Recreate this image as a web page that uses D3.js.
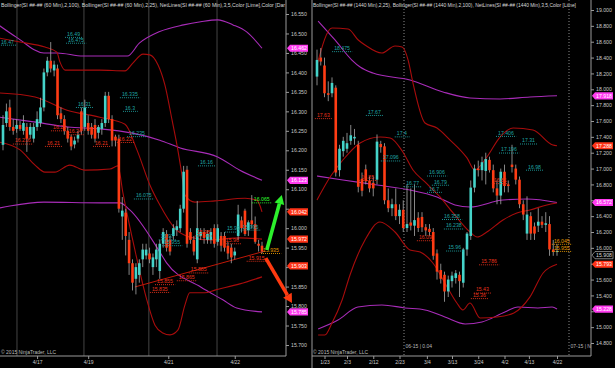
<!DOCTYPE html>
<html>
<head>
<meta charset="utf-8">
<script src="https://d3js.org/d3.v7.min.js"></script>
<style>
  html, body { margin: 0; padding: 0; background: #000; overflow: hidden; }
  text { font-family: "Liberation Sans", Arial, sans-serif; }
</style>
</head>
<body>
<svg id="chart" width="615" height="368"></svg>
<script>
"use strict";

// ---------- left panel: SI 60 min ----------
const leftOpen = [16.214,16.27,16.31,16.26,16.255,16.265,16.25,16.26,16.24,16.23,16.26,16.27,16.31,16.40,16.43,16.405,16.41,16.295,16.28,16.25,16.235,16.215,16.23,16.30,16.26,16.27,16.26,16.265,16.245,16.255,16.27,16.34,16.28,16.235,16.23,
  16.03,16.04,15.97,15.91,15.87,15.88,15.92,15.93,15.935,15.90,15.92,15.89,15.96,15.985,15.97,15.98,15.995,16.00,16.05,16.15,15.99,15.97,15.92,15.98,15.99,15.97,15.97,16.00,15.965,15.98,15.98,15.955,15.95,15.93,15.98,16.02,16.045,15.995,16.02,16.01,15.96,15.955];
const leftHigh = [16.29,16.32,16.33,16.28,16.28,16.275,16.29,16.27,16.27,16.27,16.30,16.335,16.41,16.44,16.478,16.43,16.42,16.31,16.29,16.26,16.24,16.235,16.25,16.31,16.33,16.29,16.27,16.28,16.265,16.28,16.35,16.35,16.29,16.24,16.24,
  16.08,16.05,15.99,15.92,15.91,15.92,15.96,15.96,15.95,15.935,15.96,15.97,16.00,15.995,15.98,16.01,16.02,16.06,16.16,16.16,16.00,15.98,16.07,16.00,16.00,15.995,16.00,16.01,16.01,15.99,15.99,15.965,15.96,15.95,16.06,16.03,16.05,16.02,16.085,16.03,15.97,15.965];
const leftLow = [16.20,16.26,16.25,16.24,16.245,16.25,16.24,16.196,16.23,16.22,16.25,16.26,16.30,16.39,16.40,16.39,16.28,16.27,16.24,16.22,16.20,16.205,16.22,16.24,16.25,16.24,16.23,16.22,16.23,16.24,16.26,16.27,16.21,16.21,16.04,
  15.97,15.93,15.88,15.84,15.83,15.86,15.90,15.92,15.91,15.88,15.90,15.87,15.95,15.94,15.93,15.97,15.98,15.99,16.04,15.95,15.96,15.93,15.91,15.97,15.96,15.96,15.96,15.95,15.955,15.94,15.94,15.92,15.91,15.92,15.97,15.99,15.98,15.98,16.00,15.96,15.94,15.935];
const leftClose = [16.265,16.30,16.26,16.25,16.265,16.255,16.27,16.23,16.26,16.26,16.28,16.31,16.40,16.43,16.41,16.42,16.29,16.28,16.25,16.23,16.21,16.225,16.24,16.25,16.31,16.25,16.24,16.23,16.26,16.27,16.34,16.28,16.225,16.225,16.05,
  16.045,15.98,15.91,15.86,15.90,15.91,15.945,15.945,15.92,15.925,15.945,15.96,15.99,15.95,15.94,16.00,16.005,16.05,16.145,15.96,15.97,15.94,16.00,15.99,15.975,15.985,15.99,15.96,16.00,15.955,15.95,15.935,15.925,15.94,16.035,16.00,15.985,16.015,16.01,15.965,15.955,15.94];

// bollinger lines as [bar index, price]
const leftBB100Upper = [[-1,16.52],[4,16.49],[12,16.45],[16,16.45],[23.5,16.442],[36.5,16.442],[40,16.475],[46,16.505],[53,16.522],[58,16.53],[63,16.535],[67.5,16.522],[71.5,16.504],[76,16.462]];
const leftBB100Mid = [[-1,16.285],[9,16.273],[19,16.26],[28.5,16.255],[38,16.244],[46,16.226],[52,16.206],[63,16.183],[69.5,16.149],[76,16.123]];
const leftBB100Lower = [[-1,16.052],[2,16.057],[12,16.067],[28.5,16.065],[34.3,16.065],[37.2,16.047],[46,15.939],[48,15.911],[58,15.849],[64.5,15.816],[68.6,15.795],[76,15.785]];
const leftBB25Upper = [[-1,16.488],[5,16.478],[12.3,16.465],[15.8,16.452],[16.7,16.427],[18.2,16.406],[28.4,16.406],[35.8,16.404],[38.1,16.424],[41.1,16.447],[43.1,16.445],[45.5,16.419],[47.5,16.368],[49.6,16.278],[51.3,16.201],[52.5,16.137],[53.4,16.085],[56.3,16.067],[62.2,16.07],[71,16.077],[74.5,16.072],[76,16.042]];
const leftBB25Mid = [[-1,16.347],[9.4,16.337],[18.8,16.303],[28.4,16.285],[35.8,16.267],[39.3,16.201],[43.1,16.111],[46,16.06],[50.4,16.0],[54.8,15.977],[60.7,15.97],[69.5,15.975],[76,15.972]];
const leftBB25Lower = [[-1,16.221],[5,16.201],[9.4,16.162],[12.3,16.144],[15.2,16.144],[19.6,16.162],[24,16.149],[31.4,16.152],[33.7,16.16],[35.2,16.09],[38.7,15.944],[42.2,15.816],[44.6,15.751],[46.9,15.731],[49,15.726],[51.3,15.738],[53.4,15.803],[54.8,15.834],[59.2,15.834],[62.2,15.841],[69.5,15.857],[76,15.875]];
const leftTrend = [[38.7,15.849],[76.8,15.941]];
const leftArrowUp = [[77.4,15.944],[81.8,16.085]];
const leftArrowDown = [[77.1,15.923],[84.8,15.808]];

const leftNetText = ["16.47","16.49","16.475","16.335","16.3","16.31","16.235","16.16","16.075","15.97","15.955","15.99","15.995",
  "16.216","16.21","16.25","16.24","16.21","16.22","15.98","15.96","15.915","15.885","15.865","15.855","15.835","16.065","15.935"];
const leftNetAt = [-0.9,18.5,18.8,34.6,35.5,21.7,36.7,57.5,38.7,46,47,65.4,70,
  3.2,12.6,14.4,19,26.7,33.7,56.6,65.1,71.8,54.8,51.3,44.9,43.4,73.3,76];
const leftNetKind = ["hi","hi","hi","hi","hi","hi","hi","hi","hi","hi","hi","hi","hi",
  "lo","lo","lo","lo","lo","lo","lo","lo","lo","lo","lo","lo","lo","up","cur"];

const leftPriceTicks = [15.70,15.75,15.80,15.85,15.90,15.95,16.00,16.05,16.10,16.15,16.20,16.25,16.30,16.35,16.40,16.45,16.50,16.55];
const leftDateAt = [10, 25, 48.5, 68];
const leftDateLabels = ["4/17", "4/19", "4/21", "4/22"];
const leftSessionBreaks = [4.1, 23.75, 42.8, 62.8];
const leftMarkers = [16.462, 16.123, 16.042, 15.972, 15.903, 15.785];
const leftMarkerKind = ["mag", "mag", "red", "red", "red", "mag"];

// ---------- right panel: SI 1440 min ----------
const rightOpen = [18.16,18.40,18.30,17.95,17.95,18.02,16.98,17.22,17.25,17.35,17.38,17.30,16.87,16.99,16.85,16.82,16.86,17.31,17.28,16.60,16.50,16.55,16.40,16.48,16.25,16.32,16.28,16.38,16.39,16.26,16.24,16.20,15.93,15.72,15.66,15.45,15.58,15.62,15.66,15.56,15.98,16.15,16.76,17.00,16.98,16.97,17.11,16.98,16.75,16.66,16.96,16.80,17.05,17.00,16.86,16.55,16.18,16.40,16.27,16.28,16.33,16.29,16.30,15.98,15.95];
const rightHigh = [18.50,18.52,18.40,18.10,18.15,18.05,17.30,17.40,17.45,17.55,17.50,17.35,16.95,17.05,16.90,16.90,17.43,17.35,17.32,16.75,16.62,16.75,16.55,16.60,16.80,16.75,16.80,16.45,16.45,16.30,16.30,16.25,15.98,15.80,15.70,15.65,15.70,15.72,15.70,16.00,16.20,16.85,17.05,17.10,17.15,17.20,17.15,17.05,16.85,17.00,17.05,16.85,17.30,17.05,16.90,16.60,16.65,16.45,16.32,16.50,16.40,16.45,16.40,16.10,16.05];
const rightLow = [18.05,18.30,17.90,17.85,17.90,16.90,16.90,17.15,17.20,17.30,17.30,16.70,16.65,16.80,16.70,16.65,16.80,17.20,16.55,16.45,16.40,16.35,16.30,16.20,16.20,16.22,16.15,16.20,16.20,16.15,16.15,15.85,15.60,15.55,15.32,15.38,15.50,15.55,15.38,15.50,15.90,16.10,16.70,16.90,16.85,16.80,16.95,16.70,16.55,16.55,16.70,16.70,16.95,16.80,16.50,16.35,16.10,16.10,16.10,16.20,16.25,16.20,15.90,15.90,15.90];
const rightClose = [18.37,18.35,17.95,17.93,18.08,16.95,17.25,17.35,17.32,17.42,17.40,16.77,16.72,16.84,16.75,16.75,17.34,17.27,16.60,16.50,16.55,16.40,16.48,16.25,16.30,16.28,16.35,16.25,16.26,16.22,16.20,15.90,15.70,15.61,15.45,15.60,15.65,15.68,15.58,15.98,16.18,16.76,17.00,16.98,17.08,17.12,16.98,16.75,16.66,16.96,16.78,16.78,17.02,16.86,16.55,16.42,16.42,16.18,16.18,16.33,16.29,16.31,15.98,15.95,15.96];

const rightBB100Upper = [[0.3,18.861],[4.8,18.622],[9.3,18.369],[11.5,18.281],[14.9,18.205],[24.8,18.117],[33.6,17.966],[40.8,17.89],[48.8,17.878],[56.8,17.903],[64,17.918]];
const rightBB100Mid = [[0,16.906],[6.9,16.856],[16,16.793],[24.8,16.73],[32,16.642],[36.8,16.541],[40.8,16.515],[49.6,16.604],[56,16.616],[64,16.572]];
const rightBB100Lower = [[0.3,14.977],[5.6,15.09],[10.9,15.254],[17.3,15.28],[23.5,15.242],[28.8,15.217],[34.1,15.128],[39.5,15.04],[44,15.065],[50.1,15.191],[53.6,15.254],[58.9,15.242],[62.7,15.254],[64,15.228]];
const rightBB25Upper = [[0,18.306],[4,18.773],[8.3,18.76],[11,18.622],[12.8,18.559],[17.3,18.458],[20.8,18.546],[22.7,18.533],[24.3,18.369],[25.6,18.079],[28.8,17.575],[32,17.512],[35.5,17.36],[40,17.134],[42.1,16.982],[45.3,17.146],[48.8,17.398],[52.3,17.512],[57.6,17.487],[62.9,17.297],[64,17.288]];
const rightBB25Mid = [[0,16.604],[3.5,16.894],[6.9,17.108],[11.5,17.323],[16.8,17.398],[19.5,17.386],[22.9,17.209],[25.6,16.982],[28.8,16.831],[32.8,16.642],[36.3,16.44],[40.8,16.2],[42.7,16.137],[45.3,16.2],[49.6,16.352],[53.3,16.44],[56.8,16.478],[61.3,16.541],[64,16.566]];
const rightBB25Lower = [[0.3,14.901],[2.1,14.901],[4,15.052],[6.7,15.343],[8.8,15.658],[12.8,16.099],[16.8,16.326],[20.8,16.2],[24.8,15.973],[27.5,15.948],[30.9,15.809],[34.7,15.507],[37.3,15.305],[38.9,15.217],[40.8,15.305],[43.5,15.116],[48,15.128],[52.5,15.179],[56.8,15.381],[60.3,15.683],[64,15.793]];

const rightNetText = ["18.475","17.67","17.4","17.096","16.906","16.79","16.7","16.77","17.406","17.31","17.196","16.98","16.358","16.238","15.96",
  "17.63","16.85","16.81","16.09","15.786","15.43","15.36","16.045","15.955"];
const rightNetAt = [4.3,13.3,21,17.3,29.6,30.9,29.6,23.5,48,54.4,48.8,56,33.6,34.1,34.7,
  -0.3,11.5,46.9,26.9,43.5,42.1,41.3,62.9,62.9];
const rightNetKind = ["hi","hi","hi","hi","hi","hi","hi","hi","hi","hi","hi","hi","hi","hi","hi",
  "lo","lo","lo","lo","lo","lo","lo","cur","cur"];

const rightPriceTicks = [14.8,15.0,15.2,15.4,15.6,15.8,16.0,16.2,16.4,16.6,16.8,17.0,17.2,17.4,17.6,17.8,18.0,18.2,18.4,18.6,18.8,19.0];
const rightDateAt = [2, 8, 15, 22, 29.3, 36, 43, 50, 56.5, 64];
const rightDateLabels = ["1/23","2/3","2/12","2/23","3/4","3/13","3/24","4/2","4/13","4/22"];
const rightRollovers = [23.2, 67.2];
const rightRolloverText = ["06-15 | 0.04", "07-15 | N"];
const rightMarkers = [17.918, 17.288, 16.572, 15.908, 15.793, 15.228];
const rightMarkerKind = ["mag", "red", "mag", "last", "red", "mag"];

// ---------- look ----------
const UP = "#45d3c9", DOWN = "#ff3c14", WICK = "#a8a8a8";
const BB25 = "#a80c0c", BB100 = "#a82cb8";
const NET = { hi: "#1fa3a3", lo: "#e8321c", up: "#30ff30", cur: "#e89a00" };
const MARK = { mag: "#ff3cf0", red: "#ff3418", last: "#000" };
const AXIS_Y = 356;

const svg = d3.select("#chart");
svg.append("rect").attr("width", 615).attr("height", 368).attr("fill", "#000");

function drawPanel(p) {
  const { x, y } = p;
  const root = svg.append("g");
  root.append("clipPath").attr("id", p.id).append("rect")
    .attr("x", p.x0).attr("y", 0).attr("width", p.x1 - p.x0).attr("height", AXIS_Y);
  const plot = root.append("g").attr("clip-path", `url(#${p.id})`);

  // vertical session / rollover lines
  plot.selectAll(".vgrid").data(p.breaks).join("line")
    .attr("x1", d => x(d)).attr("x2", d => x(d))
    .attr("y1", 0).attr("y2", AXIS_Y)
    .attr("stroke", p.dotted ? "#8a8a8a" : "#454545")
    .attr("stroke-width", 1)
    .attr("stroke-dasharray", p.dotted ? "1,2" : null);

  // bollinger bands
  const line = d3.line().x(d => x(d[0])).y(d => y(d[1])).curve(d3.curveMonotoneX);
  p.bands.forEach(b => {
    plot.append("path").attr("d", line(b.pts)).attr("fill", "none")
      .attr("stroke", b.color).attr("stroke-width", 1.1);
  });
  if (p.trend) {
    plot.append("path").attr("d", d3.line().x(d => x(d[0])).y(d => y(d[1]))(p.trend))
      .attr("fill", "none").attr("stroke", "#c01808").attr("stroke-width", 1);
  }

  // candles
  const bars = p.open.map((o, i) => ({ i, o, h: p.high[i], l: p.low[i], c: p.close[i] }));
  plot.selectAll(".wick").data(bars).join("line")
    .attr("x1", d => x(d.i)).attr("x2", d => x(d.i))
    .attr("y1", d => y(d.h)).attr("y2", d => y(d.l))
    .attr("stroke", WICK).attr("stroke-width", 0.8);
  plot.selectAll(".body").data(bars).join("rect")
    .attr("x", d => x(d.i) - 1.3).attr("width", 2.6)
    .attr("y", d => y(Math.max(d.o, d.c)))
    .attr("height", d => Math.max(1, Math.abs(y(d.o) - y(d.c))))
    .attr("fill", d => d.c >= d.o ? UP : DOWN);

  // net lines: dotted level with its price written above
  const nets = p.netText.map((t, k) => ({ t, at: p.netAt[k], kind: p.netKind[k] }));
  const ng = plot.selectAll(".net").data(nets).join("g");
  ng.append("line")
    .attr("x1", d => x(d.at) - 1).attr("x2", d => x(d.at) + d.t.length * 2.7 + 3)
    .attr("y1", d => y(+d.t)).attr("y2", d => y(+d.t))
    .attr("stroke", d => NET[d.kind]).attr("stroke-width", 0.9).attr("stroke-dasharray", "1,1");
  ng.append("text")
    .attr("x", d => x(d.at) + 1).attr("y", d => y(+d.t) - 1.6)
    .attr("font-size", 5.2).attr("fill", d => NET[d.kind]).text(d => d.t);

  // frame
  root.append("line").attr("x1", p.x1).attr("x2", p.x1).attr("y1", 0).attr("y2", AXIS_Y).attr("stroke", "#9a9a9a");
  root.append("line").attr("x1", p.x0).attr("x2", p.x1).attr("y1", AXIS_Y).attr("y2", AXIS_Y).attr("stroke", "#9a9a9a");

  // price axis
  const ya = root.append("g").attr("transform", `translate(${p.x1},0)`)
    .call(d3.axisRight(y).tickValues(p.priceTicks).tickFormat(d3.format(".3f")).tickSize(3).tickPadding(2));
  ya.select(".domain").remove();
  ya.selectAll("line").attr("stroke", "#9a9a9a");
  ya.selectAll("text").attr("fill", "#c8c8c8").attr("font-size", 5.2);
  ya.selectAll(".tick").filter(v => p.markers.some(m => Math.abs(y(v) - y(m)) < 4.5)).select("text").remove();

  // date axis
  const xa = root.append("g").attr("transform", `translate(0,${AXIS_Y})`)
    .call(d3.axisBottom(x).tickValues(p.dateAt).tickFormat((d, k) => p.dateLabels[k]).tickSize(3).tickPadding(1));
  xa.select(".domain").remove();
  xa.selectAll("line").attr("stroke", "#9a9a9a");
  xa.selectAll("text").attr("fill", "#c8c8c8").attr("font-size", 5);

  // price markers on the axis
  const mk = p.markers.map((v, k) => ({ v, kind: p.markerKind[k] }));
  const mg = root.selectAll(".mk").data(mk).join("g")
    .attr("transform", d => `translate(${p.x1 + 1},${y(d.v)})`);
  mg.append("path").attr("d", "M0,0 L3,-3.6 L21,-3.6 L21,3.6 L3,3.6 Z")
    .attr("fill", d => MARK[d.kind])
    .attr("stroke", d => d.kind === "last" ? "#b0b0b0" : "none").attr("stroke-width", 0.7);
  mg.append("text").attr("x", 12).attr("dy", "0.35em").attr("text-anchor", "middle")
    .attr("font-size", 5.2).attr("fill", d => d.kind === "last" ? "#dcdcdc" : "#fff")
    .text(d => d3.format(".3f")(d.v));

  // header and copyright
  root.append("text").attr("x", p.x0 + 1).attr("y", 6.5).attr("font-size", 5.2)
    .attr("fill", "#d8d8d8").attr("textLength", p.headerLen).attr("lengthAdjust", "spacingAndGlyphs")
    .text(p.header);
  root.append("text").attr("x", p.x0 + 1).attr("y", 353.5).attr("font-size", 5)
    .attr("fill", "#bdbdbd").text("\u00a9 2015 NinjaTrader, LLC");
  return root;
}

// ---------- left ----------
const xL = d3.scaleLinear().domain([0, 76]).range([3, 262]);
const yL = d3.scaleLinear().domain([15.70, 16.55]).range([345, 14]);
const left = drawPanel({
  id: "clipL", x: xL, y: yL, x0: 0, x1: 286,
  open: leftOpen, high: leftHigh, low: leftLow, close: leftClose,
  bands: [
    { pts: leftBB100Upper, color: BB100 }, { pts: leftBB100Mid, color: BB100 }, { pts: leftBB100Lower, color: BB100 },
    { pts: leftBB25Upper, color: BB25 }, { pts: leftBB25Mid, color: BB25 }, { pts: leftBB25Lower, color: BB25 }
  ],
  trend: leftTrend,
  netText: leftNetText, netAt: leftNetAt, netKind: leftNetKind,
  breaks: leftSessionBreaks, dotted: false,
  priceTicks: leftPriceTicks, dateAt: leftDateAt, dateLabels: leftDateLabels,
  markers: leftMarkers, markerKind: leftMarkerKind,
  header: "Bollinger(SI ##-## (60 Min),2,100), Bollinger(SI ##-## (60 Min),2,25), NetLines(SI ##-## (60 Min),3,5,Color [Lime],Color [Dar",
  headerLen: 284
});

// drawn arrows
function arrow(g, pts, color) {
  const [a, b] = pts.map(d => [xL(d[0]), yL(d[1])]);
  const ang = Math.atan2(b[1] - a[1], b[0] - a[0]);
  const len = 9, half = 5;
  const bx = b[0] - len * Math.cos(ang), by = b[1] - len * Math.sin(ang);
  g.append("line").attr("x1", a[0]).attr("y1", a[1]).attr("x2", bx).attr("y2", by)
    .attr("stroke", color).attr("stroke-width", 3.6);
  const px = -Math.sin(ang) * half, py = Math.cos(ang) * half;
  g.append("path").attr("d", `M${b[0]},${b[1]} L${bx + px},${by + py} L${bx - px},${by - py} Z`).attr("fill", color);
}
arrow(left, leftArrowUp, "#2cf02c");
arrow(left, leftArrowDown, "#ff3a10");

// ---------- right ----------
const xR = d3.scaleLinear().domain([0, 64]).range([317, 557]);
const yR = d3.scaleLinear().domain([14.8, 19.0]).range([343, 10]);
const right = drawPanel({
  id: "clipR", x: xR, y: yR, x0: 312, x1: 591,
  open: rightOpen, high: rightHigh, low: rightLow, close: rightClose,
  bands: [
    { pts: rightBB100Upper, color: BB100 }, { pts: rightBB100Mid, color: BB100 }, { pts: rightBB100Lower, color: BB100 },
    { pts: rightBB25Upper, color: BB25 }, { pts: rightBB25Mid, color: BB25 }, { pts: rightBB25Lower, color: BB25 }
  ],
  netText: rightNetText, netAt: rightNetAt, netKind: rightNetKind,
  breaks: rightRollovers, dotted: true,
  priceTicks: rightPriceTicks, dateAt: rightDateAt, dateLabels: rightDateLabels,
  markers: rightMarkers, markerKind: rightMarkerKind,
  header: "Bollinger(SI ##-## (1440 Min),2,25), Bollinger(SI ##-## (1440 Min),2,100), NetLines(SI ##-## (1440 Min),3,5,Color [Lime]",
  headerLen: 263
});
right.append("line").attr("x1", 312).attr("x2", 312).attr("y1", 0).attr("y2", 368).attr("stroke", "#9a9a9a");
right.selectAll(".roll").data(rightRollovers).join("text")
  .attr("x", d => xR(d) + 1.5).attr("y", 348).attr("font-size", 5).attr("fill", "#b8b8b8")
  .text((d, k) => rightRolloverText[k]);
</script>
</body>
</html>
